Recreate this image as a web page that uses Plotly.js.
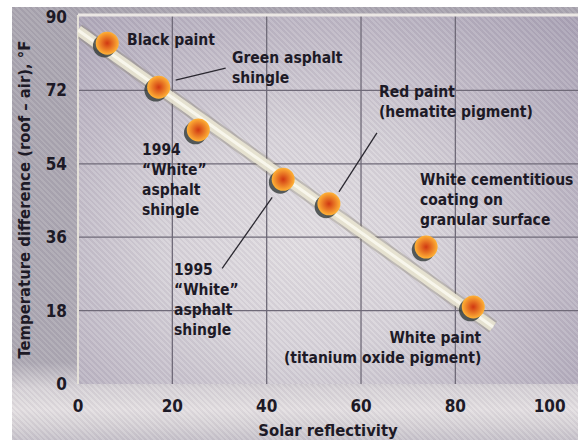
<!DOCTYPE html>
<html>
<head>
<meta charset="utf-8">
<script src="https://cdn.plot.ly/plotly-3.0.1.min.js"></script>
<style>
  html, body { margin: 0; padding: 0; background: #ffffff; }
  #wrap { position: relative; width: 578px; height: 440px; overflow: hidden; }
  #frame { position: absolute; left: 12px; top: 7px; width: 566px; height: 433px;
    background:
      repeating-linear-gradient(45deg, rgba(255,255,255,0.07) 0px, rgba(255,255,255,0.07) 2px, rgba(60,40,80,0.05) 2px, rgba(60,40,80,0.05) 4px),
      linear-gradient(to bottom, #aaa6b0 0%, #aeaab4 82%, #d8d4d8 88%, #e4e0e2 93%, #d6d2d6 97%, #c8c4cc 100%); }
  #plotbg { position: absolute; left: 78px; top: 15px; width: 500px; height: 369px;
    background:
      repeating-linear-gradient(45deg, rgba(255,255,255,0.08) 0px, rgba(255,255,255,0.08) 2px, rgba(60,40,80,0.05) 2px, rgba(60,40,80,0.05) 4px),
      radial-gradient(ellipse 75% 85% at 45% 62%, #e2dee2 0%, #d8d4da 35%, #c2bcc8 65%, #aba4b6 100%); }
  #chart { position: absolute; left: 0; top: 0; width: 578px; height: 440px; }
</style>
</head>
<body>
<div id="wrap">
  <div id="frame"></div>
  <div id="plotbg"></div>
  <div id="chart"></div>
</div>
<script>
// ---- data ----
const materials = ["Black paint", "Green asphalt<br>shingle", "1994<br>\u201cWhite\u201d<br>asphalt<br>shingle",
  "1995<br>\u201cWhite\u201d<br>asphalt<br>shingle", "Red paint<br>(hematite pigment)",
  "White cementitious<br>coating on<br>granular surface", "White paint<br>(titanium oxide pigment)"];
const reflectivity = [6.2, 17.1, 25.5, 43.5, 53.2, 73.8, 83.8];
const tempDiff     = [83.6, 72.8, 62.3, 50.2, 44.2, 33.6, 18.9];
const trendX = [0, 88];
const trendY = [86.8, 14.0];
const xTicks = [0, 20, 40, 60, 80, 100];
const yTicks = [0, 18, 36, 54, 72, 90];

// ---- styling / layout ----
const FONT = "'Liberation Sans Narrow', 'DejaVu Sans Condensed', 'Roboto Condensed', 'Arial Narrow', 'Liberation Sans', sans-serif";
const INK = "#1d1a26";

// label placement (pixel offsets from each point) and leader lines
const labelCfg = [
  {xanchor: "left",  align: "left",  xs: 18,   ys: 3},
  {xanchor: "left",  align: "left",  xs: 71,   ys: 19, lead: [17, 7, 67, 19]},
  {xanchor: "left",  align: "left",  xs: -58,  ys: -50},
  {xanchor: "left",  align: "left",  xs: -111, ys: -121, lead: [-11, -18, -61, -89]},
  {xanchor: "left",  align: "left",  xs: 48,   ys: 102, lead: [48, 71, 10, 12]},
  {xanchor: "left",  align: "left",  xs: -8,   ys: 47},
  {xanchor: "right", align: "right", xs: 11,   ys: -41}
];

const traces = [
  // trend band: soft edge, cream body, highlight
  {x: trendX, y: trendY, mode: "lines", line: {color: "rgba(120,112,90,0.3)", width: 14}, hoverinfo: "skip", showlegend: false},
  {x: trendX, y: trendY, mode: "lines", line: {color: "rgba(232,228,210,0.95)", width: 10}, hoverinfo: "skip", showlegend: false},
  {x: trendX, y: trendY, mode: "lines", line: {color: "rgba(250,248,238,0.9)", width: 3}, hoverinfo: "skip", showlegend: false},
  // sphere shadows
  {x: reflectivity.map(v => v - 0.6), y: tempDiff.map(v => v - 0.7), mode: "markers",
   marker: {size: 23, color: "rgba(50,58,56,0.8)"}, hoverinfo: "skip", showlegend: false},
  // spheres
  {x: reflectivity, y: tempDiff, mode: "markers", text: materials, hoverinfo: "x+y",
   marker: {size: 23, color: "#ffb236", gradient: {type: "radial", color: "#d03812"}, line: {width: 0}},
   showlegend: false}
];

const shapes = [];
// grid lines at the interior tick values
xTicks.filter(v => v > 0 && v < 100).forEach(v => shapes.push({type: "line", xref: "x", yref: "paper",
  x0: v, x1: v, y0: 0, y1: 1, line: {color: "#6f6a78", width: 1.3}, layer: "below"}));
yTicks.filter(v => v > 0 && v < 90).forEach(v => shapes.push({type: "line", xref: "paper", yref: "y",
  x0: 0, x1: 1, y0: v, y1: v, line: {color: "#6f6a78", width: 1.3}, layer: "below"}));
// light top and left edges of the plot area
shapes.push({type: "line", xref: "paper", yref: "paper", x0: 0, x1: 1, y0: 1, y1: 1, line: {color: "#ebe7e4", width: 3}, layer: "below"});
shapes.push({type: "line", xref: "paper", yref: "paper", x0: 0, x1: 0, y0: 0, y1: 1, line: {color: "#e4e0d8", width: 2}, layer: "below"});

const annotations = [];
materials.forEach((m, i) => {
  const c = labelCfg[i];
  annotations.push({x: reflectivity[i], y: tempDiff[i], xref: "x", yref: "y", text: m, showarrow: false,
    xanchor: c.xanchor, yanchor: "middle", align: c.align, xshift: c.xs, yshift: c.ys,
    font: {family: FONT, size: 15.5, color: INK, weight: "bold"}});
  if (c.lead) {
    shapes.push({type: "line", xref: "x", yref: "y", xsizemode: "pixel", ysizemode: "pixel",
      xanchor: reflectivity[i], yanchor: tempDiff[i],
      x0: c.lead[0], y0: c.lead[1], x1: c.lead[2], y1: c.lead[3],
      line: {color: "#2a2830", width: 1.3}});
  }
});

const layout = {
  width: 578, height: 440,
  margin: {l: 78, r: 0, t: 15, b: 56},
  paper_bgcolor: "rgba(0,0,0,0)", plot_bgcolor: "rgba(0,0,0,0)",
  font: {family: FONT, color: INK},
  xaxis: {range: [0, 106], tickvals: xTicks, showgrid: false, zeroline: false, showline: false,
    ticks: "", ticklabelstandoff: 10, tickfont: {family: FONT, size: 17, color: INK, weight: "bold"},
    title: {text: "Solar reflectivity", standoff: 11, font: {family: FONT, size: 16.5, color: INK, weight: "bold"}}},
  yaxis: {range: [0, 90.5], tickvals: yTicks, showgrid: false, zeroline: false, showline: false,
    ticks: "", ticklabelstandoff: 10, tickfont: {family: FONT, size: 17, color: INK, weight: "bold"},
    title: {text: "Temperature difference (roof \u2013 air), \u00b0F", standoff: 10,
      font: {family: FONT, size: 16.5, color: INK, weight: "bold"}}},
  shapes: shapes,
  annotations: annotations,
  showlegend: false
};

Plotly.newPlot("chart", traces, layout, {displayModeBar: false, staticPlot: true});
</script>
</body>
</html>
